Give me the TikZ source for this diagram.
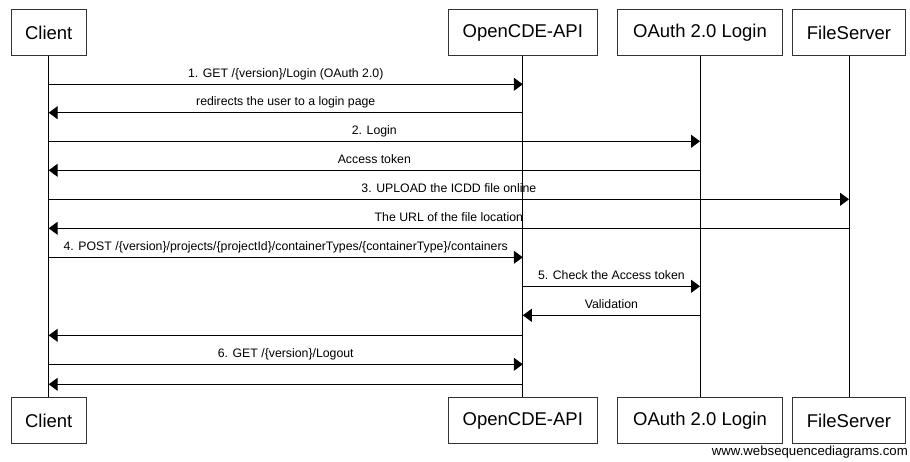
\documentclass[tikz,border=0pt]{standalone}
\usepackage{fontspec}
\setmainfont{Liberation Sans}
\usetikzlibrary{arrows.meta}
\tikzset{
  actor/.style={draw=black!80, line width=1pt, minimum height=46pt, inner sep=0pt, font=\fontsize{18.5}{22}\selectfont, anchor=north},
  life/.style={line width=1pt},
  msg/.style={line width=1pt, -{Triangle[length=9pt,width=13pt]}},
  lbl/.style={anchor=base, yshift=7pt, inner sep=0pt, font=\fontsize{12.3}{14}\selectfont}
}
\begin{document}
\begin{tikzpicture}[x=1pt,y=-1pt]
\useasboundingbox (0,0) rectangle (910,461);
% top actors
\node[actor, minimum width=75pt]  (ct) at (48.7,9) {Client};
\node[actor, minimum width=149.5pt] (ot) at (522.8,9) {OpenCDE-API};
\node[actor, minimum width=164.5pt] (at) at (700,9) {OAuth 2.0 Login};
\node[actor, minimum width=113.5pt] (ft) at (849,9) {FileServer};
% bottom actors
\node[actor, minimum width=75pt]  (cb) at (48.7,397) {Client};
\node[actor, minimum width=149.5pt] (ob) at (522.8,397) {OpenCDE-API};
\node[actor, minimum width=164.5pt] (ab) at (700,397) {OAuth 2.0 Login};
\node[actor, minimum width=113.5pt] (fb) at (849,397) {FileServer};
% lifelines
\draw[life] (ct.south) -- (cb.north);
\draw[life] (ot.south) -- (ob.north);
\draw[life] (at.south) -- (ab.north);
\draw[life] (ft.south) -- (fb.north);
% message rows
\coordinate (r1) at (0,84.3);
\coordinate (r2) at (0,112.7);
\coordinate (r3) at (0,141.3);
\coordinate (r4) at (0,170.3);
\coordinate (r5) at (0,199.3);
\coordinate (r6) at (0,228.3);
\coordinate (r7) at (0,257.3);
\coordinate (r8) at (0,286.3);
\coordinate (r9) at (0,315.3);
\coordinate (r10) at (0,335.3);
\coordinate (r11) at (0,364.3);
\coordinate (r12) at (0,384.3);
\draw[msg] (ct |- r1) -- (ot |- r1) node[pos=0.5, lbl] {1. GET /\{version\}/Login (OAuth 2.0)};
\draw[msg] (ot |- r2) -- (ct |- r2) node[pos=0.5, lbl] {redirects the user to a login page};
\draw[msg] (ct |- r3) -- (at |- r3) node[pos=0.5, lbl] {2. Login};
\draw[msg] (at |- r4) -- (ct |- r4) node[pos=0.5, lbl] {Access token};
\draw[msg] (ct |- r5) -- (ft |- r5) node[pos=0.5, lbl] {3. UPLOAD the ICDD file online};
\draw[msg] (ft |- r6) -- (ct |- r6) node[pos=0.5, lbl] {The URL of the file location};
\draw[msg] (ct |- r7) -- (ot |- r7) node[pos=0.5, lbl] {4. POST /\{version\}/projects/\{projectId\}/containerTypes/\{containerType\}/containers};
\draw[msg] (ot |- r8) -- (at |- r8) node[pos=0.5, lbl] {5. Check the Access token};
\draw[msg] (at |- r9) -- (ot |- r9) node[pos=0.5, lbl] {Validation};
\draw[msg] (ot |- r10) -- (ct |- r10);
\draw[msg] (ct |- r11) -- (ot |- r11) node[pos=0.5, lbl] {6. GET /\{version\}/Logout};
\draw[msg] (ot |- r12) -- (ct |- r12);
% watermark
\node[anchor=base east, inner sep=0pt, font=\fontsize{13.2}{15}\selectfont] (wm) at (908,455) {www.websequencediagrams.com};
\end{tikzpicture}
\end{document}
